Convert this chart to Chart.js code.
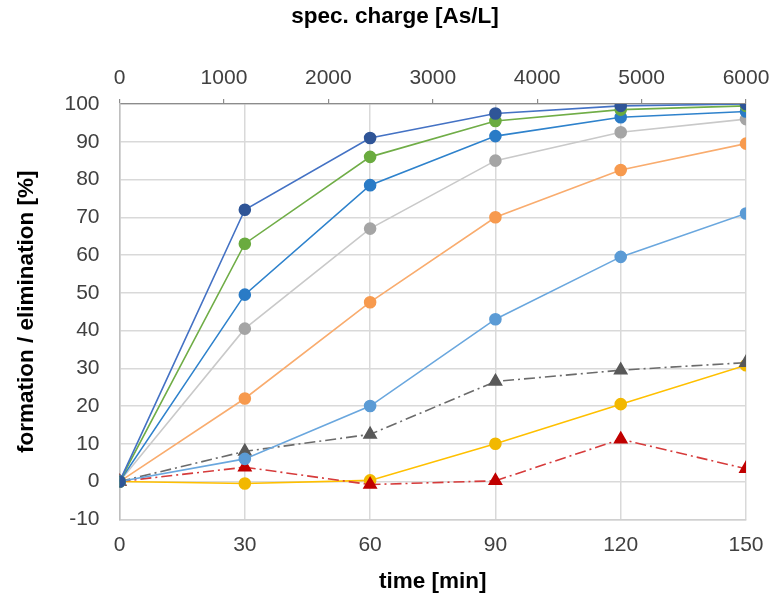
<!DOCTYPE html>
<html>
<head>
<meta charset="utf-8">
<script src="https://cdn.jsdelivr.net/npm/chart.js@4.4.1/dist/chart.umd.min.js"></script>
<style>
  html, body { margin: 0; padding: 0; background: #fff; }
  #wrap { width: 774px; height: 599px; }
</style>
</head>
<body>
<div id="wrap"><canvas id="chart"></canvas></div>
<script>
// time points [min]
const times = [0, 30, 60, 90, 120, 150];

// series values [%]
const darkBlue  = [0, 72, 91, 97.5, 99.5, 100];
const green     = [0, 63, 86, 95.5, 98.5, 99.5];
const blue      = [0, 49.5, 78.5, 91.5, 96.5, 98];
const gray      = [0, 40.5, 67, 85, 92.5, 96];
const orange    = [0, 22, 47.5, 70, 82.5, 89.5];
const lightBlue = [0, 6, 20, 43, 59.5, 71];
const darkGrayTri = [0, 8, 12.5, 26.5, 29.5, 31.5];
const redTri    = [0, 3.8, -0.8, 0.2, 11.2, 3.4];
const yellow    = [0, -0.5, 0.3, 10, 20.5, 30.8];

// top axis ticks [As/L]
const chargeTicks = [0, 1000, 2000, 3000, 4000, 5000, 6000];

const tickFont = { family: 'Liberation Sans', size: 21 };
const titleFont = { family: 'Liberation Sans', size: 22.5, weight: 'bold', lineHeight: 1 };

function pts(values) {
    return values.map((v, i) => ({ x: times[i], y: v }));
}

function series(values, line, marker, style, dash) {
    return {
        data: pts(values),
        borderColor: line,
        backgroundColor: marker,
        pointBackgroundColor: marker,
        pointBorderColor: marker,
        pointStyle: style,
        pointRadius: style === 'triangle' ? 7 : 5.5,
        borderWidth: 1.6,
        borderDash: dash || [],
        tension: 0,
        xAxisID: 'x',
        yAxisID: 'y'
    };
}

const dashDot = [11, 4, 2, 4];

const datasets = [
    series(darkBlue, '#4472C4', '#2F5597', 'circle'),
    series(green, '#70AD47', '#6AAB3F', 'circle'),
    series(blue, '#2E82CC', '#2A7BC6', 'circle'),
    series(gray, '#C9C9C9', '#A5A5A5', 'circle'),
    series(orange, '#F9AC6E', '#F79A4E', 'circle'),
    series(lightBlue, '#6AA7DE', '#5B9BD5', 'circle'),
    series(darkGrayTri, '#6B6B6B', '#595959', 'triangle', dashDot),
    series(redTri, '#D63B3B', '#C00000', 'triangle', dashDot),
    series(yellow, '#FFC000', '#F2B800', 'circle')
];

const plain = v => String(v);

// keep the right label overhang tight, like the original
const tightRight = scale => { scale.paddingRight = 28; };

const ctx = document.getElementById('chart').getContext('2d');
new Chart(ctx, {
    type: 'line',
    data: { datasets: datasets },
    options: {
        responsive: true,
        maintainAspectRatio: false,
        animation: false,
        layout: { padding: { left: 16, right: 0, top: 6, bottom: 3 } },
        plugins: {
            legend: { display: false },
            tooltip: { enabled: false },
            // the top axis title sits over the whole picture, not the plot
            title: {
                display: true,
                text: 'spec. charge [As/L]',
                color: '#000',
                font: titleFont,
                padding: { top: 0, bottom: 28.5 }
            }
        },
        scales: {
            x: {
                type: 'linear',
                position: 'bottom',
                min: 0,
                max: 150,
                afterFit: tightRight,
                ticks: { stepSize: 30, color: '#404040', font: tickFont, padding: 13, callback: plain },
                grid: { color: '#D9D9D9', lineWidth: 1.5, drawTicks: false },
                border: { color: '#D0D0D0', width: 1.5 },
                title: {
                    display: true,
                    text: 'time [min]',
                    color: '#000',
                    font: titleFont,
                    padding: { top: 0, bottom: 3 }
                }
            },
            x2: {
                type: 'linear',
                position: 'top',
                min: 0,
                max: 6000,
                afterFit: tightRight,
                afterBuildTicks: axis => {
                    axis.ticks = chargeTicks.map(v => ({ value: v }));
                },
                ticks: { color: '#404040', font: tickFont, padding: 8.4, callback: plain },
                grid: { drawOnChartArea: false, drawTicks: true, tickLength: 5, color: '#8C8C8C', lineWidth: 1.2 },
                border: { color: '#8C8C8C', width: 1.2 }
            },
            y: {
                min: -10,
                max: 100,
                ticks: { stepSize: 10, color: '#404040', font: tickFont, padding: 20, callback: plain },
                grid: { color: '#D9D9D9', lineWidth: 1.5, drawTicks: false },
                border: { color: '#BFBFBF', width: 1.5 },
                title: {
                    display: true,
                    text: 'formation / elimination [%]',
                    color: '#000',
                    font: titleFont,
                    padding: { top: 0, bottom: 6 }
                }
            }
        }
    }
});
</script>
</body>
</html>
